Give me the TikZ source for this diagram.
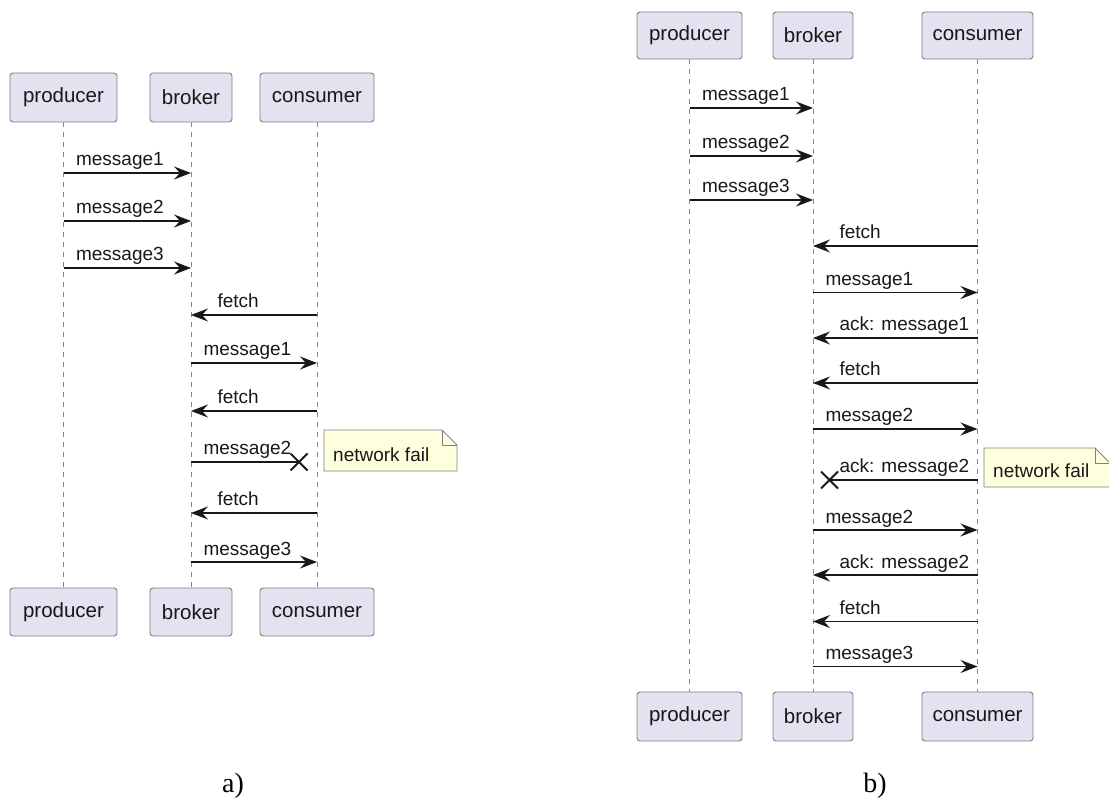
\documentclass[tikz,border=0pt]{standalone}
\usepackage{fontspec}
\setmainfont{Liberation Sans}
\newfontfamily\capfont{Liberation Serif}
\usetikzlibrary{arrows.meta,shapes.misc}
\definecolor{partfill}{HTML}{E2E2F0}
\definecolor{partdraw}{HTML}{808080}
\definecolor{notefill}{HTML}{FEFFDD}
\definecolor{ink}{HTML}{181818}
\definecolor{lifec}{HTML}{8A8A8A}
\begin{document}
\begin{tikzpicture}[x=1pt,y=-1pt,
  part/.style={draw=partdraw, fill=partfill, rounded corners=3pt, line width=0.9pt, inner sep=0pt, font=\fontsize{20.5}{24}\selectfont, text=ink},
  life/.style={draw=lifec, dash pattern=on 5pt off 5pt, line width=0.8pt},
  msg/.style={draw=ink, line width=1.2pt, -{Stealth[length=17pt,width=13pt,inset=6pt]}},
  lost/.style={draw=ink, line width=1.2pt},
  lbl/.style={anchor=base west, yshift=7pt, inner sep=0pt, font=\fontsize{19}{22}\selectfont, text=ink},
  lblR/.style={lbl, pos=0, xshift=12pt},
  lblL/.style={lbl, pos=1, xshift=26pt},
  xm/.style={cross out, draw=ink, line width=2pt, minimum size=15pt, inner sep=0pt},
  notebox/.style={draw=partdraw, fill=notefill, line width=0.9pt},
  notetext/.style={anchor=base west, inner sep=0pt, font=\fontsize{19}{22}\selectfont, text=ink},
  captext/.style={font=\capfont\fontsize{28}{32}\selectfont, inner sep=0pt, anchor=base}
]
\useasboundingbox (0,0) rectangle (1109,799);
\clip (0,0) rectangle (1109,799);

% ---------------- a) ----------------
\node[part, minimum width=107pt, minimum height=49pt] (ap) at (63.5,97.5) {producer};
\node[part, minimum width=82pt, minimum height=49pt] (ab) at (191,97.5) {broker};
\node[part, minimum width=114pt, minimum height=49pt] (ac) at (317,97.5) {consumer};
\node[part, minimum width=107pt, minimum height=48pt] (apb) at (63.5,612) {producer};
\node[part, minimum width=82pt, minimum height=48pt] (abb) at (191,612) {broker};
\node[part, minimum width=114pt, minimum height=48pt] (acb) at (317,612) {consumer};
\draw[life] (ap) -- (apb);
\draw[life] (ab) -- (abb);
\draw[life] (ac) -- (acb);

\coordinate (a1) at (0,173);
\coordinate (a2) at (0,221);
\coordinate (a3) at (0,268);
\coordinate (a4) at (0,315);
\coordinate (a5) at (0,363);
\coordinate (a6) at (0,411);
\coordinate (a8) at (0,513);
\coordinate (a9) at (0,562);

\draw[msg] (ap |- a1) -- (ab |- a1) node[lblR] {message1};
\draw[msg] (ap |- a2) -- (ab |- a2) node[lblR] {message2};
\draw[msg] (ap |- a3) -- (ab |- a3) node[lblR] {message3};
\draw[msg] (ac |- a4) -- (ab |- a4) node[lblL] {fetch};
\draw[msg] (ab |- a5) -- (ac |- a5) node[lblR] {message1};
\draw[msg] (ac |- a6) -- (ab |- a6) node[lblL] {fetch};
\node[xm] (ax) at (299,462) {};
\draw[lost] (ab |- ax) -- (ax.center) node[lblR] {message2};
\draw[msg] (ac |- a8) -- (ab |- a8) node[lblL] {fetch};
\draw[msg] (ab |- a9) -- (ac |- a9) node[lblR] {message3};

\draw[notebox] (324,430) -- (442,430) -- (457,445) -- (457,471) -- (324,471) -- cycle;
\draw[notebox, fill=none] (442,430) -- (442,445) -- (457,445);
\node[notetext] (an) at (333,462) {network fail};

\node[captext] (acap) at (233,792) {a)};

% ---------------- b) ----------------
\node[part, minimum width=105pt, minimum height=47pt] (rp) at (689.5,35.5) {producer};
\node[part, minimum width=80pt, minimum height=47pt] (rb) at (813,35.5) {broker};
\node[part, minimum width=111pt, minimum height=47pt] (rc) at (977.5,35.5) {consumer};
\node[part, minimum width=105pt, minimum height=49pt] (rpb) at (689.5,716.5) {producer};
\node[part, minimum width=80pt, minimum height=49pt] (rbb) at (813,716.5) {broker};
\node[part, minimum width=111pt, minimum height=49pt] (rcb) at (977.5,716.5) {consumer};
\draw[life] (rp) -- (rpb);
\draw[life] (rb) -- (rbb);
\draw[life] (rc) -- (rcb);

\coordinate (b1) at (0,108);
\coordinate (b2) at (0,156);
\coordinate (b3) at (0,200);
\coordinate (b4) at (0,246);
\coordinate (b5) at (0,292.5);
\coordinate (b6) at (0,338);
\coordinate (b7) at (0,383);
\coordinate (b8) at (0,429);
\coordinate (b10) at (0,530);
\coordinate (b11) at (0,575);
\coordinate (b12) at (0,621.5);
\coordinate (b13) at (0,666.5);

\draw[msg] (rp |- b1) -- (rb |- b1) node[lblR] {message1};
\draw[msg] (rp |- b2) -- (rb |- b2) node[lblR] {message2};
\draw[msg] (rp |- b3) -- (rb |- b3) node[lblR] {message3};
\draw[msg] (rc |- b4) -- (rb |- b4) node[lblL] {fetch};
\draw[msg] (rb |- b5) -- (rc |- b5) node[lblR] {message1};
\draw[msg] (rc |- b6) -- (rb |- b6) node[lblL] {ack: message1};
\draw[msg] (rc |- b7) -- (rb |- b7) node[lblL] {fetch};
\draw[msg] (rb |- b8) -- (rc |- b8) node[lblR] {message2};
\node[xm] (bx) at (829.5,480) {};
\draw[lost] (rc |- bx) -- (bx.center) node[lbl, pos=1, xshift=9.5pt] {ack: message2};
\draw[msg] (rb |- b10) -- (rc |- b10) node[lblR] {message2};
\draw[msg] (rc |- b11) -- (rb |- b11) node[lblL] {ack: message2};
\draw[msg] (rc |- b12) -- (rb |- b12) node[lblL] {fetch};
\draw[msg] (rb |- b13) -- (rc |- b13) node[lblR] {message3};

\draw[notebox] (984,448) -- (1095,448) -- (1110,463) -- (1110,487) -- (984,487) -- cycle;
\draw[notebox, fill=none] (1095,448) -- (1095,463) -- (1110,463);
\node[notetext] (bn) at (993,478) {network fail};

\node[captext] (bcap) at (875,792) {b)};
\end{tikzpicture}
\end{document}
